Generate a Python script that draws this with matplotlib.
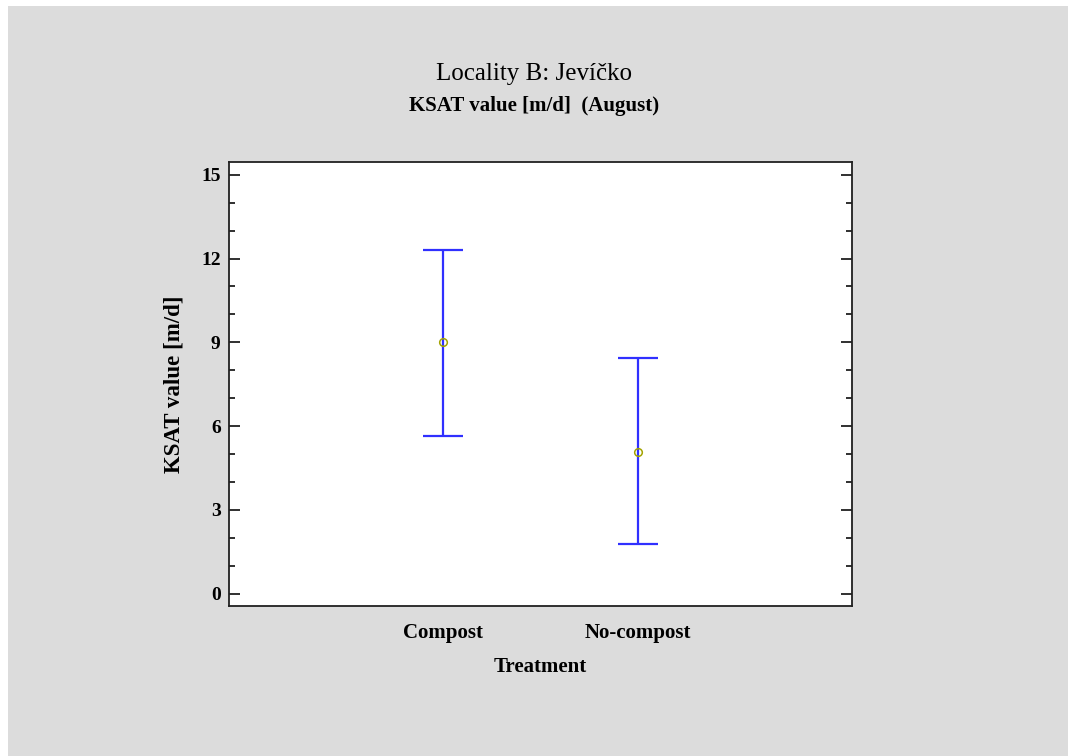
#!/usr/bin/env python3

import matplotlib.pyplot as plt
from matplotlib.patches import Rectangle
from matplotlib.ticker import MultipleLocator

# data
treatments = ["Compost", "No-compost"]
means = [9.0, 5.06]
lower = [5.66, 1.79]
upper = [12.29, 8.44]

serif = ['Liberation Serif', 'DejaVu Serif']

fig = plt.figure(figsize=(10.68, 7.56), dpi=100)
fig.patch.set_facecolor('white')
# grey panel, thin white strip on the left and top
fig.patches.append(Rectangle((8 / 1068, 0), 1, 1 - 6 / 756, transform=fig.transFigure,
                             facecolor='#dcdcdc', edgecolor='none', zorder=-10))

ax = fig.add_axes([229 / 1068, 1 - 606 / 756, (852 - 229) / 1068, (606 - 162) / 756])
ax.set_facecolor('white')

pos = [1, 2]
err_lo = [m - l for m, l in zip(means, lower)]
err_hi = [u - m for m, u in zip(means, upper)]
ax.errorbar(pos, means, yerr=[err_lo, err_hi], fmt='none', ecolor='#3030ff',
            elinewidth=1.6, capsize=14.4, capthick=1.6)
ax.plot(pos, means, linestyle='none', marker='o', markersize=5.5, markerfacecolor='none',
        markeredgecolor='#a3a300', markeredgewidth=1.1, zorder=5)

ax.set_xlim(-0.094, 3.094)
ax.set_ylim(-0.44, 15.455)
ax.set_xticks(pos)
ax.set_xticklabels(treatments, family=serif, weight='bold', fontsize=15)
ax.set_yticks([0, 3, 6, 9, 12, 15])
ax.yaxis.set_minor_locator(MultipleLocator(1))
for lab in ax.get_yticklabels():
    lab.set_family(serif)
    lab.set_weight('bold')
    lab.set_fontsize(14)

ax.tick_params(axis='x', length=0, pad=12)
ax.tick_params(axis='y', which='major', direction='in', length=8.2, width=1.3,
               left=True, right=True, pad=6, color='#202020')
ax.tick_params(axis='y', which='minor', direction='in', length=4, width=1.3,
               left=True, right=True, color='#202020')
for s in ax.spines.values():
    s.set_linewidth(1.3)
    s.set_color('#202020')

ax.set_xlabel('Treatment', family=serif, weight='bold', fontsize=15, labelpad=10)
ax.set_ylabel('KSAT value [m/d]', family=serif, weight='bold', fontsize=16.5, labelpad=12)

fig.text(0.5, 1 - 74 / 756, 'Locality B: Jevíčko', ha='center', va='center',
         family=serif, fontsize=18)
fig.text(0.5, 1 - 106 / 756, 'KSAT value [m/d]  (August)', ha='center', va='center',
         family=serif, weight='bold', fontsize=15)

fig.savefig('out.png', dpi=100)
